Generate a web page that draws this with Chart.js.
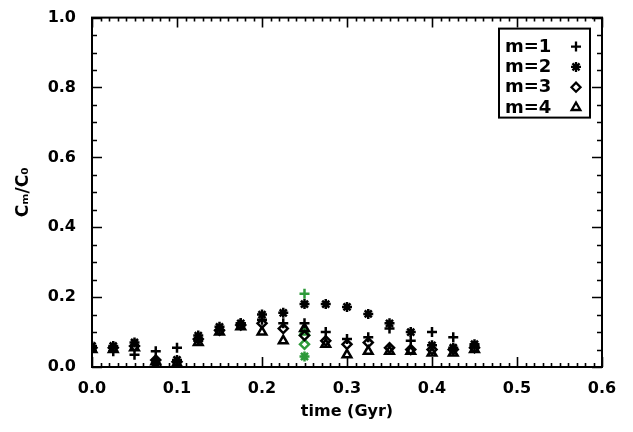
<!DOCTYPE html>
<html>
<head>
<meta charset="utf-8">
<script src="https://cdn.jsdelivr.net/npm/chart.js@4/dist/chart.umd.min.js"></script>
<style>
  html,body{margin:0;padding:0;background:#fff;}
  #wrap{width:633px;height:432px;position:relative;}
</style>
</head>
<body>
<div id="wrap"><canvas id="c" width="633" height="432"></canvas></div>
<script>
// ---- data ----
const times = [0, 0.025, 0.05, 0.075, 0.1, 0.125, 0.15, 0.175, 0.2, 0.225, 0.25, 0.275, 0.3, 0.325, 0.35, 0.375, 0.4, 0.425, 0.45];
const m1 = [0.055, 0.045, 0.035, 0.045, 0.055, 0.075, 0.105, 0.125, 0.135, 0.125, 0.125, 0.10, 0.08, 0.085, 0.11, 0.075, 0.10, 0.085, 0.06];
const m2 = [0.06, 0.06, 0.07, 0.01, 0.02, 0.09, 0.115, 0.125, 0.15, 0.155, 0.18, 0.18, 0.172, 0.152, 0.125, 0.10, 0.062, 0.055, 0.065];
const m3 = [0.055, 0.055, 0.06, 0.02, 0.015, 0.08, 0.105, 0.12, 0.125, 0.11, 0.09, 0.075, 0.065, 0.07, 0.055, 0.05, 0.05, 0.05, 0.055];
const m4 = [0.05, 0.05, 0.055, 0.015, 0.01, 0.07, 0.10, 0.115, 0.10, 0.075, 0.11, 0.065, 0.035, 0.045, 0.045, 0.045, 0.04, 0.04, 0.05];
const greenTime = 0.25;
const greenVals = [0.21, 0.03, 0.065, 0.10];   // m=1, m=2, m=3, m=4 at the highlighted time
const seriesLabels = ['m=1', 'm=2', 'm=3', 'm=4'];
const xTickLabels = ['0.0', '0.1', '0.2', '0.3', '0.4', '0.5', '0.6'];
const yTickLabels = ['0.0', '0.2', '0.4', '0.6', '0.8', '1.0'];

const styles = ['cross', 'star', 'rectRot', 'triangle'];
const radii = [5, 5, 4.5, 5];
const FONT = 'DejaVu Sans';
const GREEN = '#2e9a3a';

function pts(vals){ return times.map((t,i)=>({x:t, y:vals[i]})); }
const seriesVals = [m1, m2, m3, m4];
const datasets = seriesVals.map((v,i)=>({
  label: seriesLabels[i],
  data: pts(v),
  pointStyle: styles[i],
  pointRadius: radii[i],
  pointBorderWidth: 2.5,
  borderColor: '#000',
  backgroundColor: 'rgba(0,0,0,0)',
  showLine: false
}));
datasets.push({
  label: 'highlight',
  data: greenVals.map(v=>({x:greenTime, y:v})),
  pointStyle: styles,
  pointRadius: radii,
  pointBorderWidth: 2.5,
  borderColor: GREEN,
  backgroundColor: 'rgba(0,0,0,0)',
  showLine: false
});

// frame, inward ticks and legend box
const framePlugin = {
  id: 'frame',
  afterDraw(chart){
    const ctx = chart.ctx, a = chart.chartArea;
    const xs = chart.scales.x, ys = chart.scales.y;
    ctx.save();
    ctx.strokeStyle = '#000';
    ctx.lineWidth = 2;
    ctx.strokeRect(a.left, a.top, a.right - a.left, a.bottom - a.top);
    ctx.lineWidth = 1.6;
    ctx.beginPath();
    for (let k = 0; k <= 60; k++){
      const v = k / 100;
      const px = Math.round(xs.getPixelForValue(v)) + 0.5;
      const len = (k % 10 === 0) ? 10 : 4;
      ctx.moveTo(px, a.bottom); ctx.lineTo(px, a.bottom - len);
      ctx.moveTo(px, a.top); ctx.lineTo(px, a.top + len);
    }
    for (let k = 0; k <= 20; k++){
      const v = k / 20;
      const py = Math.round(ys.getPixelForValue(v)) + 0.5;
      const len = (k % 4 === 0) ? 10 : 5;
      ctx.moveTo(a.left, py); ctx.lineTo(a.left + len, py);
      ctx.moveTo(a.right, py); ctx.lineTo(a.right - len, py);
    }
    ctx.stroke();

    // legend
    const bx = a.right - 103, by = a.top + 11, bw = 91, bh = 89;
    ctx.lineWidth = 2;
    ctx.strokeRect(bx, by, bw, bh);
    ctx.font = 'bold 18px "' + FONT + '"';
    ctx.textBaseline = 'alphabetic';
    ctx.textAlign = 'left';
    for (let i = 0; i < 4; i++){
      const cy = by + 18 + i * 20.3;
      ctx.fillStyle = '#000';
      ctx.fillText(seriesLabels[i], bx + 6, cy + 5);
      ctx.fillStyle = 'rgba(0,0,0,0)';
      ctx.strokeStyle = '#000';
      ctx.lineWidth = 2.3;
      Chart.helpers.drawPoint(ctx, {pointStyle: styles[i], radius: radii[i], borderWidth: 2.3}, bx + 77, cy);
    }
    ctx.restore();
  }
};

new Chart(document.getElementById('c'), {
  type: 'scatter',
  data: { datasets },
  plugins: [framePlugin],
  options: {
    responsive: false,
    animation: false,
    layout: { padding: { left: 9, right: 31, top: 12, bottom: 7 } },
    plugins: { legend: { display: false }, tooltip: { enabled: false } },
    elements: { point: { borderColor: '#000' } },
    scales: {
      x: {
        type: 'linear', min: 0, max: 0.6,
        grid: { display: false }, border: { display: false },
        afterFit(s){ s.height = 58; },
        ticks: {
          stepSize: 0.1, color: '#000', padding: 4,
          font: { family: FONT, size: 16, weight: 'bold' },
          callback: (v)=>{ const i = Math.round(v*10); return xTickLabels[i]; }
        },
        title: { display: true, text: 'time (Gyr)', color: '#000', padding: { top: 0 },
          font: { family: FONT, size: 16, weight: 'bold' } }
      },
      y: {
        type: 'linear', min: 0, max: 1,
        grid: { display: false }, border: { display: false },
        afterFit(s){ s.width = 83; },
        ticks: {
          stepSize: 0.2, color: '#000', padding: 8,
          font: { family: FONT, size: 16, weight: 'bold' },
          callback: (v)=>{ const i = Math.round(v*5); return yTickLabels[i]; }
        },
        title: { display: true, text: 'Cₘ/C₀', color: '#000', padding: { bottom: 4 },
          font: { family: FONT, size: 17, weight: 'bold' } }
      }
    }
  }
});
</script>
</body>
</html>
